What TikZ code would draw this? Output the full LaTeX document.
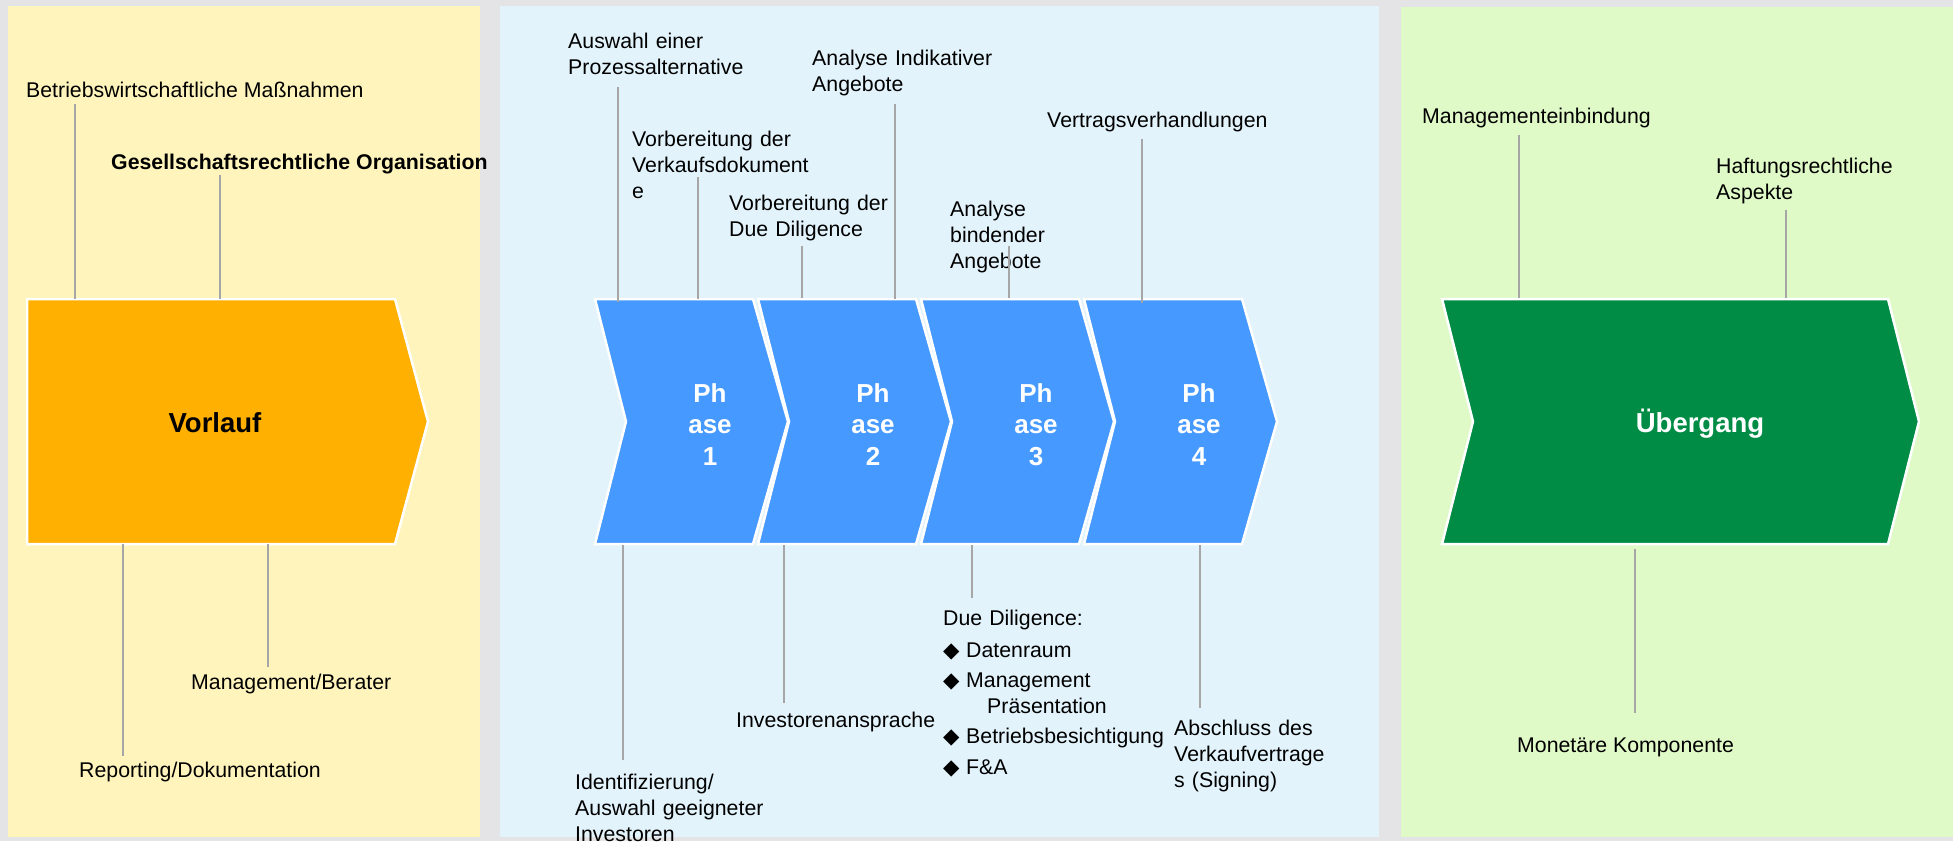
\documentclass[tikz,border=0pt]{standalone}
\usepackage{fontspec}
\setmainfont{Liberation Sans}
\newfontfamily\symfnt{DejaVu Sans}
\definecolor{bggrey}{HTML}{E4E4E6}
\definecolor{yellowpanel}{HTML}{FFF5BC}
\definecolor{orangebox}{HTML}{FFB000}
\definecolor{bluepanel}{HTML}{E2F3FB}
\definecolor{phaseblue}{HTML}{4699FF}
\definecolor{greenpanel}{HTML}{E0FAC7}
\definecolor{darkgreen}{HTML}{008C45}
\definecolor{linegrey}{HTML}{A6A6A6}
\newcommand{\ddb}{\makebox[23pt][l]{{\symfnt\char"25C6}}}
\begin{document}
\begin{tikzpicture}[x=1pt,y=-1pt,
  lbl/.style={anchor=base west, inner sep=0pt, text=black, font=\fontsize{21.3}{26}\selectfont},
  mlbl/.style={lbl, align=left, text width=#1},
  blbl/.style={lbl, font=\bfseries\fontsize{21.3}{26}\selectfont},
  conn/.style={draw=linegrey, line width=2.3pt},
  shapeout/.style={draw=white, line width=2.5pt, line join=miter},
  phasetxt/.style={anchor=base, inner sep=0pt, text=white, align=center, text width=70pt, font=\bfseries\fontsize{26}{31.5}\selectfont},
  bigtxt/.style={anchor=base, inner sep=0pt, font=\bfseries\fontsize{27.5}{32}\selectfont}
]
\useasboundingbox (0,0) rectangle (1953,841);
\fill[bggrey] (0,0) rectangle (1953,841);
% panels
\fill[yellowpanel] (8,6) rectangle (480,837);
\fill[bluepanel] (500,6) rectangle (1379,837);
\fill[greenpanel] (1401,7) rectangle (1953,837);

% Vorlauf
\filldraw[fill=orangebox, shapeout] (27,299) -- (395,299) -- (428,421.5) -- (395,544) -- (27,544) -- cycle;
\node[bigtxt, text=black] (vorlauf) at (215,432) {Vorlauf};

% Phases
\foreach \i/\L in {1/595,2/758,3/921,4/1084} {
  \filldraw[fill=phaseblue, shapeout] (\L,299) -- (\L+158,299) -- (\L+193,421.5) -- (\L+158,544) -- (\L,544) -- (\L+31,421.5) -- cycle;
  \node[phasetxt] (ph\i) at (\L+115,402) {Ph\\ase\\\i};
}

% Uebergang
\filldraw[fill=darkgreen, shapeout] (1442,299) -- (1888,299) -- (1919,421.5) -- (1888,544) -- (1442,544) -- (1473,421.5) -- cycle;
\node[bigtxt, text=white] (uebergang) at (1700,432) {Übergang};

% labels yellow panel
\node[lbl] (bwm) at (26,97) {Betriebswirtschaftliche Maßnahmen};
\node[blbl] (gro) at (111,169) {Gesellschaftsrechtliche Organisation};
\node[lbl] (rep) at (79,777) {Reporting/Dokumentation};
\node[lbl] (mgb) at (191,689) {Management/Berater};

% labels blue panel
\node[mlbl=260pt] (ausw) at (568,48) {Auswahl einer\\Prozessalternative};
\node[mlbl=260pt] (vvd) at (632,146) {Vorbereitung der\\Verkaufsdokument\\e};
\node[mlbl=220pt] (vdd) at (729,210) {Vorbereitung der\\Due Diligence};
\node[mlbl=220pt] (aia) at (812,65) {Analyse Indikativer\\Angebote};
\node[mlbl=150pt] (aba) at (950,216) {Analyse\\bindender\\Angebote};
\node[lbl] (vtv) at (1047,127) {Vertragsverhandlungen};
\node[mlbl=260pt] (ide) at (575,789) {Identifizierung/\\Auswahl geeigneter\\Investoren};
\node[lbl] (inv) at (736,727) {Investorenansprache};
\node[mlbl=330pt] (dd) at (943,625) {Due Diligence:\\[6pt]
\ddb Datenraum\\[4pt]
\ddb Management\\
\hspace*{44pt}Präsentation\\[4pt]
\ddb Betriebsbesichtigung\\[5pt]
\ddb F\&A};
\node[mlbl=220pt] (abs) at (1174,735) {Abschluss des\\Verkaufvertrage\\s (Signing)};

% labels green panel
\node[lbl] (mge) at (1422,123) {Managementeinbindung};
\node[mlbl=250pt] (haf) at (1716,173) {Haftungsrechtliche\\Aspekte};
\node[lbl] (mon) at (1517,752) {Monetäre Komponente};

% connector end points
\coordinate (a1) at (75,104);   \coordinate (b1) at (75,299);
\coordinate (a2) at (220,175);  \coordinate (b2) at (220,299);
\coordinate (a3) at (123,756);  \coordinate (b3) at (123,544);
\coordinate (a4) at (268,667);  \coordinate (b4) at (268,544);
\coordinate (a5) at (618,87);   \coordinate (b5) at (618,302);
\coordinate (a6) at (698,177);  \coordinate (b6) at (698,299);
\coordinate (a7) at (802,246);  \coordinate (b7) at (802,298);
\coordinate (a8) at (895,104);  \coordinate (b8) at (895,299);
\coordinate (a9) at (1009,246); \coordinate (b9) at (1009,298);
\coordinate (a10) at (1142,139); \coordinate (b10) at (1142,303);
\coordinate (a11) at (623,760); \coordinate (b11) at (623,545);
\coordinate (a12) at (784,703); \coordinate (b12) at (784,545);
\coordinate (a13) at (972,598); \coordinate (b13) at (972,545);
\coordinate (a14) at (1200,708); \coordinate (b14) at (1200,545);
\coordinate (a15) at (1519,135); \coordinate (b15) at (1519,298);
\coordinate (a16) at (1786,210); \coordinate (b16) at (1786,298);
\coordinate (a17) at (1635,713); \coordinate (b17) at (1635,549);
\foreach \k in {1,...,17} { \draw[conn] (a\k) -- (b\k); }
\end{tikzpicture}
\end{document}
